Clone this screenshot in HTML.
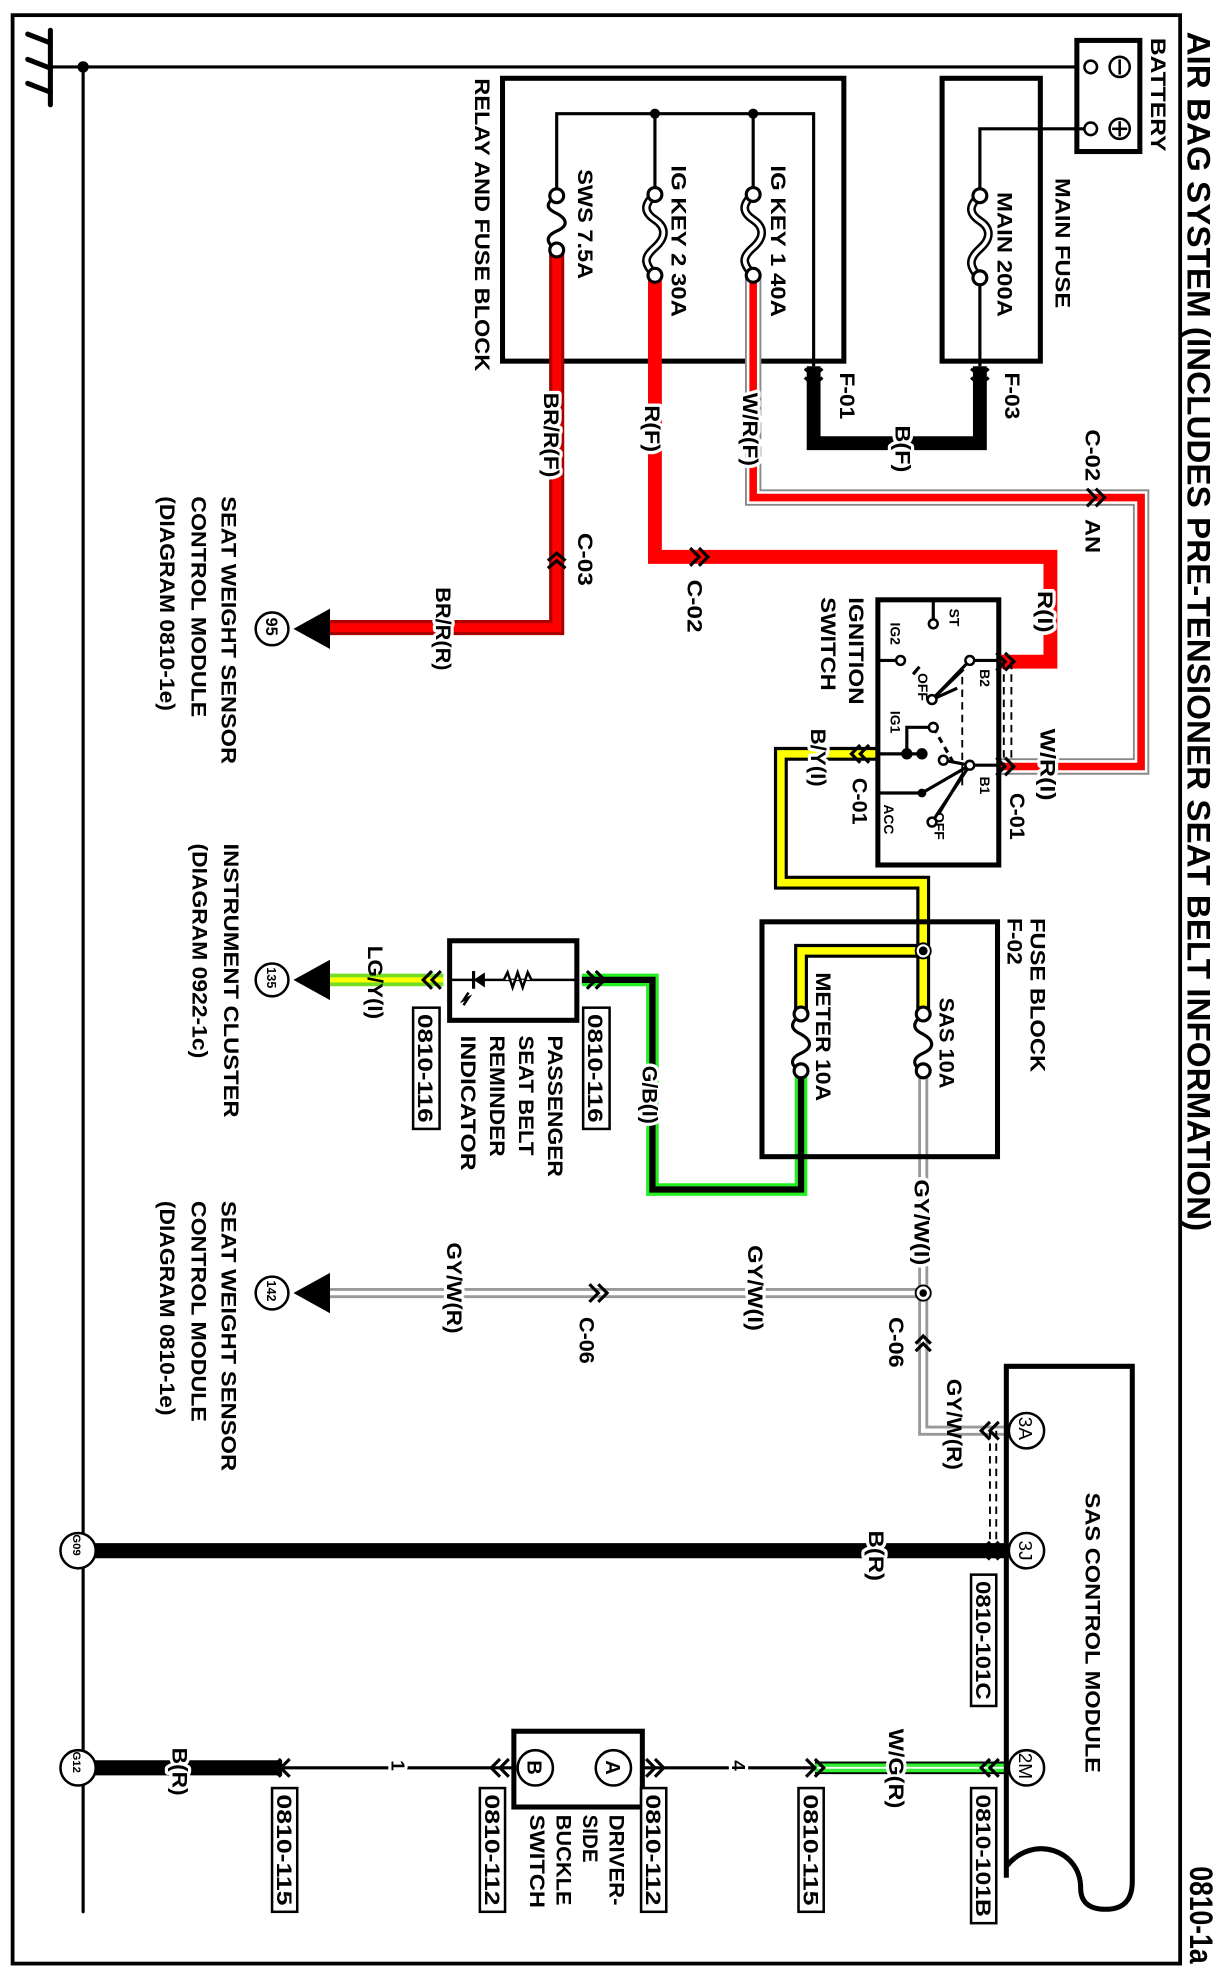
<!DOCTYPE html>
<html><head><meta charset="utf-8"><style>
html,body{margin:0;padding:0;background:#fff;}
svg{display:block;}
text{font-family:"Liberation Sans",Arial,sans-serif;font-weight:bold;fill:#000;}
.l{paint-order:stroke;stroke:#fff;stroke-width:5px;stroke-linejoin:round;}
</style></head><body>
<svg width="1228" height="1980" viewBox="0 0 975 1568" preserveAspectRatio="none" xmlns="http://www.w3.org/2000/svg">
<rect width="975" height="1568" fill="#fff"/>
<rect x="10" y="12" width="927" height="1543" fill="none" stroke="#000" stroke-width="3"/>
<g stroke="#000" stroke-linecap="round" fill="none">
<line x1="40" y1="24" x2="40" y2="83" stroke-width="4"/>
<line x1="40" y1="34" x2="22" y2="27" stroke-width="4"/>
<line x1="40" y1="54" x2="22" y2="47" stroke-width="4"/>
<line x1="40" y1="73" x2="22" y2="66" stroke-width="4"/>
<line x1="40" y1="53" x2="866" y2="53" stroke-width="2.5"/>
<line x1="66" y1="53" x2="66" y2="1514" stroke-width="2.5"/>
</g>
<circle cx="66" cy="53" r="4.5" fill="#000"/>
<rect x="855" y="32" width="50" height="88" fill="#fff" stroke="#000" stroke-width="4"/>
<circle cx="866" cy="53" r="5" fill="#fff" stroke="#000" stroke-width="2"/>
<circle cx="866" cy="102" r="5" fill="#fff" stroke="#000" stroke-width="2"/>
<circle cx="889" cy="53" r="8" fill="none" stroke="#000" stroke-width="2"/>
<line x1="889" y1="47" x2="889" y2="59" stroke="#000" stroke-width="2"/>
<circle cx="889" cy="102" r="8" fill="none" stroke="#000" stroke-width="2"/>
<line x1="889" y1="96" x2="889" y2="108" stroke="#000" stroke-width="2"/>
<line x1="883" y1="102" x2="895" y2="102" stroke="#000" stroke-width="2"/>
<text transform="translate(914,30) rotate(90)" font-size="17" textLength="90" lengthAdjust="spacingAndGlyphs">BATTERY</text>
<rect x="748" y="62" width="78" height="224" fill="none" stroke="#000" stroke-width="4"/>
<polyline points="861,102 778,102 778,150" fill="none" stroke="#000" stroke-width="2.5"/>
<line x1="778" y1="225" x2="778" y2="290" stroke="#000" stroke-width="2.5"/>
<rect x="399" y="62" width="271" height="224" fill="none" stroke="#000" stroke-width="4"/>
<polyline points="442,150 442,90 646,90 646,290" fill="none" stroke="#000" stroke-width="2.5"/>
<line x1="520" y1="90" x2="520" y2="150" stroke="#000" stroke-width="2.5"/>
<line x1="598" y1="90" x2="598" y2="150" stroke="#000" stroke-width="2.5"/>
<circle cx="520" cy="90" r="4" fill="#000"/><circle cx="598" cy="90" r="4" fill="#000"/>
<polyline points="646,290 646,351 778,351 778,290" fill="none" stroke="#000" stroke-width="11"/>
<polyline points="598,220 598,394 906,394 906,607 794,607" fill="none" stroke="#888" stroke-width="13"/>
<polyline points="598,220 598,394 906,394 906,607 794,607" fill="none" stroke="#fff" stroke-width="10"/>
<polyline points="598,220 598,394 906,394 906,607 794,607" fill="none" stroke="#f00" stroke-width="6"/>
<polyline points="520,218 520,441 834,441 834,524 794,524" fill="none" stroke="#f00" stroke-width="11"/>
<polyline points="442,198 442,497 262,497" fill="none" stroke="#a00" stroke-width="12"/>
<polyline points="442,198 442,497 262,497" fill="none" stroke="#f00" stroke-width="7"/>
<polyline points="697,597 620,597 620,699 733,699 733,803" fill="none" stroke="#000" stroke-width="11"/>
<polyline points="733,753 636,753 636,803" fill="none" stroke="#000" stroke-width="11"/>
<polyline points="697,597 620,597 620,699 733,699 733,803" fill="none" stroke="#ff0" stroke-width="6"/>
<polyline points="733,753 636,753 636,803" fill="none" stroke="#ff0" stroke-width="6"/>
<circle cx="733" cy="753" r="6" fill="#fff" stroke="#000" stroke-width="1.5"/><circle cx="733" cy="753" r="3.5" fill="#000"/>
<polyline points="636,848 636,942 518,942 518,776 462,776" fill="none" stroke="#2e2" stroke-width="10"/>
<polyline points="636,848 636,942 518,942 518,776 462,776" fill="none" stroke="#000" stroke-width="5"/>
<line x1="262" y1="776" x2="352" y2="776" stroke="#7d2" stroke-width="10"/>
<line x1="262" y1="776" x2="352" y2="776" stroke="#ff0" stroke-width="4"/>
<g fill="none">
<polyline points="733,848 733,1133 799,1133" stroke="#999" stroke-width="8"/>
<polyline points="733,1024 262,1024" stroke="#999" stroke-width="8"/>
<polyline points="733,848 733,1133 799,1133" stroke="#fff" stroke-width="3.5"/>
<polyline points="733,1024 262,1024" stroke="#fff" stroke-width="3.5"/>
</g>
<circle cx="733" cy="1024" r="6" fill="#fff" stroke="#000" stroke-width="1.5"/><circle cx="733" cy="1024" r="3" fill="#000"/>
<line x1="62" y1="1228" x2="799" y2="1228" stroke="#000" stroke-width="12"/>
<line x1="647" y1="1400" x2="799" y2="1400" stroke="#000" stroke-width="10"/>
<line x1="647" y1="1400" x2="799" y2="1400" stroke="#3e3" stroke-width="7"/>
<line x1="647" y1="1400" x2="799" y2="1400" stroke="#fff" stroke-width="1.5"/>
<line x1="224" y1="1400" x2="647" y2="1400" stroke="#000" stroke-width="2.5"/>
<line x1="62" y1="1400" x2="224" y2="1400" stroke="#000" stroke-width="12"/>
<g stroke="#000" stroke-width="1.5" stroke-dasharray="6,4">
<line x1="797" y1="524" x2="797" y2="607"/><line x1="803" y1="524" x2="803" y2="607"/>
<line x1="786" y1="1133" x2="786" y2="1228"/><line x1="791" y1="1133" x2="791" y2="1228"/>
<line x1="764" y1="536" x2="764" y2="622"/>
</g>
<g fill="#fff" stroke="#000" stroke-width="2.5">
<path d="M778,155 c-9,8 -9,14 0,20 c9,6 9,14 0,22 c-9,8 -9,14 0,23" fill="none" stroke-width="7"/>
<path d="M778,155 c-9,8 -9,14 0,20 c9,6 9,14 0,22 c-9,8 -9,14 0,23" fill="none" stroke="#fff" stroke-width="3"/>
<circle cx="778" cy="155" r="5.5"/><circle cx="778" cy="220" r="5.5"/>
<path d="M442,155 c-9,6 -9,10 0,14 c9,5 9,10 0,14 c-9,4 -9,9 0,15" fill="none"/>
<circle cx="442" cy="155" r="5.5"/><circle cx="442" cy="198" r="5.5"/>
<path d="M520,154 c-9,8 -9,14 0,20 c9,6 9,14 0,22 c-9,8 -9,12 0,22" fill="none" stroke-width="7"/>
<path d="M520,154 c-9,8 -9,14 0,20 c9,6 9,14 0,22 c-9,8 -9,12 0,22" fill="none" stroke="#fff" stroke-width="3"/>
<circle cx="520" cy="154" r="5.5"/><circle cx="520" cy="218" r="5.5"/>
<path d="M598,154 c-9,8 -9,14 0,20 c9,6 9,14 0,22 c-9,8 -9,12 0,22" fill="none" stroke-width="7"/>
<path d="M598,154 c-9,8 -9,14 0,20 c9,6 9,14 0,22 c-9,8 -9,12 0,22" fill="none" stroke="#fff" stroke-width="3"/>
<circle cx="598" cy="154" r="5.5"/><circle cx="598" cy="218" r="5.5"/>
<path d="M733,803 c-9,7 -9,12 0,16 c9,5 9,11 0,15 c-9,4 -9,10 0,14" fill="none"/>
<circle cx="733" cy="803" r="5.5"/><circle cx="733" cy="848" r="5.5"/>
<path d="M636,803 c-9,7 -9,12 0,16 c9,5 9,11 0,15 c-9,4 -9,10 0,14" fill="none"/>
<circle cx="636" cy="803" r="5.5"/><circle cx="636" cy="848" r="5.5"/>
</g>
<rect x="605" y="730" width="187" height="186" fill="none" stroke="#000" stroke-width="4"/>
<rect x="697" y="475" width="96" height="210" fill="none" stroke="#000" stroke-width="4"/>
<g stroke="#000" stroke-width="2.5" fill="none">
<line x1="741" y1="476" x2="741" y2="492"/>
<line x1="697" y1="523" x2="712" y2="523"/>
<line x1="793" y1="523" x2="770" y2="523"/>
<line x1="770" y1="523" x2="740" y2="554"/><line x1="765" y1="530" x2="740" y2="554" />
<line x1="740" y1="554" x2="760" y2="545"/>
<line x1="697" y1="597" x2="732" y2="597"/>
<polyline points="720,597 720,576 738,576"/>
<line x1="741" y1="576" x2="757" y2="604" stroke-dasharray="5,4"/>
<line x1="793" y1="606" x2="770" y2="606"/>
<line x1="697" y1="628" x2="732" y2="628"/>
<line x1="770" y1="606" x2="740" y2="651"/><line x1="770" y1="606" x2="732" y2="628"/>
<line x1="770" y1="606" x2="749" y2="602"/><line x1="765" y1="612" x2="745" y2="645"/>
<line x1="730" y1="528" x2="725" y2="534" />
</g>
<g fill="#fff" stroke="#000" stroke-width="2">
<circle cx="741" cy="494" r="3.5"/><circle cx="715" cy="523" r="3.5"/><circle cx="770" cy="523" r="3.5"/>
<circle cx="740" cy="554" r="3.5"/><circle cx="741" cy="576" r="3.5"/><circle cx="770" cy="606" r="3.5"/>
<circle cx="749" cy="602" r="3.5"/><circle cx="740" cy="651" r="3.5"/>
</g>
<circle cx="720" cy="597" r="4.5" fill="#000"/><circle cx="732" cy="597" r="4.5" fill="#000"/><circle cx="732" cy="628" r="3.5" fill="#000"/>
<text transform="translate(754,482) rotate(90)" font-size="11">ST</text>
<text transform="translate(707,493) rotate(90)" font-size="11">IG2</text>
<text transform="translate(778,530) rotate(90)" font-size="11">B2</text>
<text transform="translate(729,533) rotate(90)" font-size="11">OFF</text>
<text transform="translate(707,563) rotate(90)" font-size="11">IG1</text>
<text transform="translate(778,615) rotate(90)" font-size="11">B1</text>
<text transform="translate(742,643) rotate(90)" font-size="11">OFF</text>
<text transform="translate(702,637) rotate(90)" font-size="11">ACC</text>
<rect x="357" y="745" width="101" height="63" fill="#fff" stroke="#000" stroke-width="4"/>
<line x1="357" y1="776" x2="458" y2="776" stroke="#000" stroke-width="2"/>
<polygon points="375,770 375,782 384,776" fill="#000" transform="rotate(180 380 776)"/>
<line x1="376" y1="769" x2="376" y2="783" stroke="#000" stroke-width="2.5"/>
<polyline points="400,776 403,770 407,782 411,770 415,782 419,770 422,776" fill="#fff" stroke="#000" stroke-width="2"/>
<path d="M372,786 l-4,6 l4,-2 l-4,6" fill="none" stroke="#000" stroke-width="2"/>
<rect x="408" y="1371" width="102" height="60" fill="#fff" stroke="#000" stroke-width="4"/>
<circle cx="487" cy="1400" r="14" fill="#fff" stroke="#000" stroke-width="2"/>
<circle cx="425" cy="1400" r="14" fill="#fff" stroke="#000" stroke-width="2"/>
<text transform="translate(481,1394) rotate(90)" font-size="16">A</text>
<text transform="translate(419,1394) rotate(90)" font-size="16">B</text>
<path d="M799,1487 V1082 H899 V1490 Q899,1512 878,1512 Q858,1512 858,1495 C858,1465 820,1452 799,1478" fill="none" stroke="#000" stroke-width="4"/>
<g fill="#fff" stroke="#000" stroke-width="2">
<circle cx="815" cy="1133" r="14"/><circle cx="815" cy="1228" r="14"/><circle cx="815" cy="1400" r="14"/>
<circle cx="62" cy="1228" r="14"/><circle cx="62" cy="1400" r="14"/>
<circle cx="216" cy="498" r="13"/><circle cx="216" cy="776" r="13"/><circle cx="216" cy="1024" r="13"/>
</g>
<text transform="translate(809,1122) rotate(90)" font-size="15" style="font-weight:normal">3A</text>
<text transform="translate(809,1220) rotate(90)" font-size="15" style="font-weight:normal">3J</text>
<text transform="translate(809,1388) rotate(90)" font-size="15" style="font-weight:normal">2M</text>
<text transform="translate(58,1215) rotate(90)" font-size="9">G09</text>
<text transform="translate(58,1387) rotate(90)" font-size="9">G12</text>
<text transform="translate(211,489) rotate(90)" font-size="13">95</text>
<text transform="translate(212,766) rotate(90)" font-size="10">135</text>
<text transform="translate(212,1014) rotate(90)" font-size="10">142</text>
<polygon points="233,498 262,482 262,514" fill="#000"/>
<polygon points="233,776 262,760 262,792" fill="#000"/>
<polygon points="233,1024 262,1008 262,1040" fill="#000"/>
<g fill="none" stroke="#000" stroke-width="2.5">
<path d="M639,292 l7,6 l7,-6 M639,299 l7,6 l7,-6"/>
<path d="M771,292 l7,6 l7,-6 M771,299 l7,6 l7,-6"/>
<path d="M548,434 l7,7 l-7,7 M555,434 l7,7 l-7,7"/>
<path d="M863,387 l7,7 l-7,7 M870,387 l7,7 l-7,7"/>
<path d="M442,434 m-7,10 l7,-6 l7,6 m-14,6 l7,-6 l7,6"/>
<path d="M799,517 l7,7 l-7,7 M806,517 l7,7 l-7,7" transform="translate(-8,0)"/>
<path d="M799,600 l7,7 l-7,7 M806,600 l7,7 l-7,7" transform="translate(-8,0)"/>
<path d="M690,590 l-7,7 l7,7 M683,590 l-7,7 l7,7"/>
<path d="M466,769 l7,7 l-7,7 M473,769 l7,7 l-7,7"/>
<path d="M350,769 l-7,7 l7,7 M343,769 l-7,7 l7,7"/>
<path d="M468,1017 l7,7 l-7,7 M475,1017 l7,7 l-7,7"/>
<path d="M727,1064 l6,-6 l6,6 M727,1070 l6,-6 l6,6"/>
<path d="M793,1126 l-7,7 l7,7 M786,1126 l-7,7 l7,7"/>
<path d="M793,1221 l-7,7 l7,7 M786,1221 l-7,7 l7,7"/>
<path d="M793,1393 l-7,7 l7,7 M786,1393 l-7,7 l7,7"/>
<path d="M640,1393 l7,7 l-7,7 M647,1393 l7,7 l-7,7"/>
<path d="M513,1393 l7,7 l-7,7 M520,1393 l7,7 l-7,7"/>
<path d="M404,1393 l-7,7 l7,7 M397,1393 l-7,7 l7,7"/>
<path d="M230,1393 l-7,7 l7,7 M223,1393 l-7,7 l7,7"/>
</g>
<g fill="#fff" stroke="#000" stroke-width="2">
<rect x="463" y="798" width="21" height="96"/><rect x="328" y="798" width="21" height="96"/>
<rect x="771" y="1247" width="20" height="104"/><rect x="771" y="1416" width="20" height="107"/>
<rect x="634" y="1416" width="20" height="98"/><rect x="509" y="1416" width="20" height="98"/>
<rect x="381" y="1416" width="20" height="98"/><rect x="216" y="1416" width="20" height="98"/>
</g>
<g font-size="17">
<text transform="translate(467,803) rotate(90)" textLength="86" lengthAdjust="spacingAndGlyphs">0810-116</text>
<text transform="translate(332,803) rotate(90)" textLength="86" lengthAdjust="spacingAndGlyphs">0810-116</text>
<text transform="translate(775,1252) rotate(90)" textLength="94" lengthAdjust="spacingAndGlyphs">0810-101C</text>
<text transform="translate(775,1421) rotate(90)" textLength="97" lengthAdjust="spacingAndGlyphs">0810-101B</text>
<text transform="translate(638,1421) rotate(90)" textLength="88" lengthAdjust="spacingAndGlyphs">0810-115</text>
<text transform="translate(513,1421) rotate(90)" textLength="88" lengthAdjust="spacingAndGlyphs">0810-112</text>
<text transform="translate(385,1421) rotate(90)" textLength="88" lengthAdjust="spacingAndGlyphs">0810-112</text>
<text transform="translate(220,1421) rotate(90)" textLength="88" lengthAdjust="spacingAndGlyphs">0810-115</text>
</g>
<text transform="translate(943,25) rotate(90)" font-size="26" textLength="950" lengthAdjust="spacingAndGlyphs">AIR BAG SYSTEM (INCLUDES PRE-TENSIONER SEAT BELT INFORMATION)</text>
<text transform="translate(945,1478) rotate(90)" font-size="26" textLength="77" lengthAdjust="spacingAndGlyphs">0810-1a</text>
<g font-size="17">
<text transform="translate(838,141) rotate(90)" textLength="103" lengthAdjust="spacingAndGlyphs">MAIN FUSE</text>
<text transform="translate(792,152) rotate(90)" textLength="99" lengthAdjust="spacingAndGlyphs">MAIN 200A</text>
<text transform="translate(612,131) rotate(90)" textLength="120" lengthAdjust="spacingAndGlyphs">IG KEY 1 40A</text>
<text transform="translate(533,131) rotate(90)" textLength="120" lengthAdjust="spacingAndGlyphs">IG KEY 2 30A</text>
<text transform="translate(459,134) rotate(90)" textLength="87" lengthAdjust="spacingAndGlyphs">SWS 7.5A</text>
<text transform="translate(377,62) rotate(90)" textLength="232" lengthAdjust="spacingAndGlyphs">RELAY AND FUSE BLOCK</text>
<text transform="translate(667,295) rotate(90)" textLength="37" lengthAdjust="spacingAndGlyphs">F-01</text>
<text transform="translate(798,295) rotate(90)" textLength="37" lengthAdjust="spacingAndGlyphs">F-03</text>
<text class="l" transform="translate(711,337) rotate(90)" textLength="37" lengthAdjust="spacingAndGlyphs">B(F)</text>
<text class="l" transform="translate(590,311) rotate(90)" textLength="58" lengthAdjust="spacingAndGlyphs">W/R(F)</text>
<text class="l" transform="translate(512,321) rotate(90)" textLength="37" lengthAdjust="spacingAndGlyphs">R(F)</text>
<text class="l" transform="translate(432,311) rotate(90)" textLength="67" lengthAdjust="spacingAndGlyphs">BR/R(F)</text>
<text transform="translate(862,340) rotate(90)" textLength="41" lengthAdjust="spacingAndGlyphs">C-02</text>
<text transform="translate(862,411) rotate(90)" textLength="27" lengthAdjust="spacingAndGlyphs">AN</text>
<text transform="translate(459,422) rotate(90)" textLength="42" lengthAdjust="spacingAndGlyphs">C-03</text>
<text transform="translate(546,459) rotate(90)" textLength="42" lengthAdjust="spacingAndGlyphs">C-02</text>
<text class="l" transform="translate(824,468) rotate(90)" textLength="33" lengthAdjust="spacingAndGlyphs">R(I)</text>
<text class="l" transform="translate(826,577) rotate(90)" textLength="57" lengthAdjust="spacingAndGlyphs">W/R(I)</text>
<text transform="translate(802,628) rotate(90)" textLength="37" lengthAdjust="spacingAndGlyphs">C-01</text>
<text class="l" transform="translate(644,577) rotate(90)" textLength="46" lengthAdjust="spacingAndGlyphs">B/Y(I)</text>
<text transform="translate(677,616) rotate(90)" textLength="37" lengthAdjust="spacingAndGlyphs">C-01</text>
<text transform="translate(674,473) rotate(90)" textLength="85" lengthAdjust="spacingAndGlyphs">IGNITION</text>
<text transform="translate(652,473) rotate(90)" textLength="74" lengthAdjust="spacingAndGlyphs">SWITCH</text>
<text class="l" transform="translate(346,465) rotate(90)" textLength="66" lengthAdjust="spacingAndGlyphs">BR/R(R)</text>
<text transform="translate(176,393) rotate(90)" textLength="212" lengthAdjust="spacingAndGlyphs">SEAT WEIGHT SENSOR</text>
<text transform="translate(152,393) rotate(90)" textLength="175" lengthAdjust="spacingAndGlyphs">CONTROL MODULE</text>
<text transform="translate(127,393) rotate(90)" textLength="170" lengthAdjust="spacingAndGlyphs">(DIAGRAM  0810-1e)</text>
<text transform="translate(800,727) rotate(90)" textLength="37" lengthAdjust="spacingAndGlyphs">F-02</text>
<text transform="translate(818,727) rotate(90)" textLength="122" lengthAdjust="spacingAndGlyphs">FUSE BLOCK</text>
<text transform="translate(746,790) rotate(90)" textLength="72" lengthAdjust="spacingAndGlyphs">SAS 10A</text>
<text transform="translate(648,770) rotate(90)" textLength="102" lengthAdjust="spacingAndGlyphs">METER 10A</text>
<text class="l" transform="translate(510,844) rotate(90)" textLength="46" lengthAdjust="spacingAndGlyphs">G/B(I)</text>
<text transform="translate(435,820) rotate(90)" textLength="112" lengthAdjust="spacingAndGlyphs">PASSENGER</text>
<text transform="translate(412,820) rotate(90)" textLength="95" lengthAdjust="spacingAndGlyphs">SEAT BELT</text>
<text transform="translate(389,820) rotate(90)" textLength="96" lengthAdjust="spacingAndGlyphs">REMINDER</text>
<text transform="translate(366,820) rotate(90)" textLength="107" lengthAdjust="spacingAndGlyphs">INDICATOR</text>
<text transform="translate(292,749) rotate(90)" textLength="58" lengthAdjust="spacingAndGlyphs">LG/Y(I)</text>
<text transform="translate(178,668) rotate(90)" textLength="217" lengthAdjust="spacingAndGlyphs">INSTRUMENT CLUSTER</text>
<text transform="translate(153,668) rotate(90)" textLength="170" lengthAdjust="spacingAndGlyphs">(DIAGRAM  0922-1c)</text>
<text class="l" transform="translate(726,934) rotate(90)" textLength="68" lengthAdjust="spacingAndGlyphs">GY/W(I)</text>
<text class="l" transform="translate(594,986) rotate(90)" textLength="68" lengthAdjust="spacingAndGlyphs">GY/W(I)</text>
<text transform="translate(460,1043) rotate(90)" textLength="37" lengthAdjust="spacingAndGlyphs">C-06</text>
<text class="l" transform="translate(355,984) rotate(90)" textLength="72" lengthAdjust="spacingAndGlyphs">GY/W(R)</text>
<text transform="translate(706,1043) rotate(90)" textLength="40" lengthAdjust="spacingAndGlyphs">C-06</text>
<text transform="translate(752,1092) rotate(90)" textLength="72" lengthAdjust="spacingAndGlyphs">GY/W(R)</text>
<text transform="translate(176,951) rotate(90)" textLength="214" lengthAdjust="spacingAndGlyphs">SEAT WEIGHT SENSOR</text>
<text transform="translate(152,951) rotate(90)" textLength="175" lengthAdjust="spacingAndGlyphs">CONTROL MODULE</text>
<text transform="translate(127,951) rotate(90)" textLength="170" lengthAdjust="spacingAndGlyphs">(DIAGRAM  0810-1e)</text>
<text transform="translate(862,1182) rotate(90)" textLength="222" lengthAdjust="spacingAndGlyphs">SAS CONTROL MODULE</text>
<text class="l" transform="translate(690,1212) rotate(90)" textLength="40" lengthAdjust="spacingAndGlyphs">B(R)</text>
<text class="l" transform="translate(706,1369) rotate(90)" textLength="63" lengthAdjust="spacingAndGlyphs">W/G(R)</text>
<text class="l" transform="translate(581,1394) rotate(90)" font-size="15">4</text>
<text class="l" transform="translate(311,1394) rotate(90)" font-size="15">1</text>
<text transform="translate(484,1437) rotate(90)" textLength="72" lengthAdjust="spacingAndGlyphs">DRIVER-</text>
<text transform="translate(463,1437) rotate(90)" textLength="38" lengthAdjust="spacingAndGlyphs">SIDE</text>
<text transform="translate(442,1437) rotate(90)" textLength="72" lengthAdjust="spacingAndGlyphs">BUCKLE</text>
<text transform="translate(421,1437) rotate(90)" textLength="74" lengthAdjust="spacingAndGlyphs">SWITCH</text>
<text class="l" transform="translate(137,1384) rotate(90)" textLength="38" lengthAdjust="spacingAndGlyphs">B(R)</text>
</g>
</svg>
</body></html>
